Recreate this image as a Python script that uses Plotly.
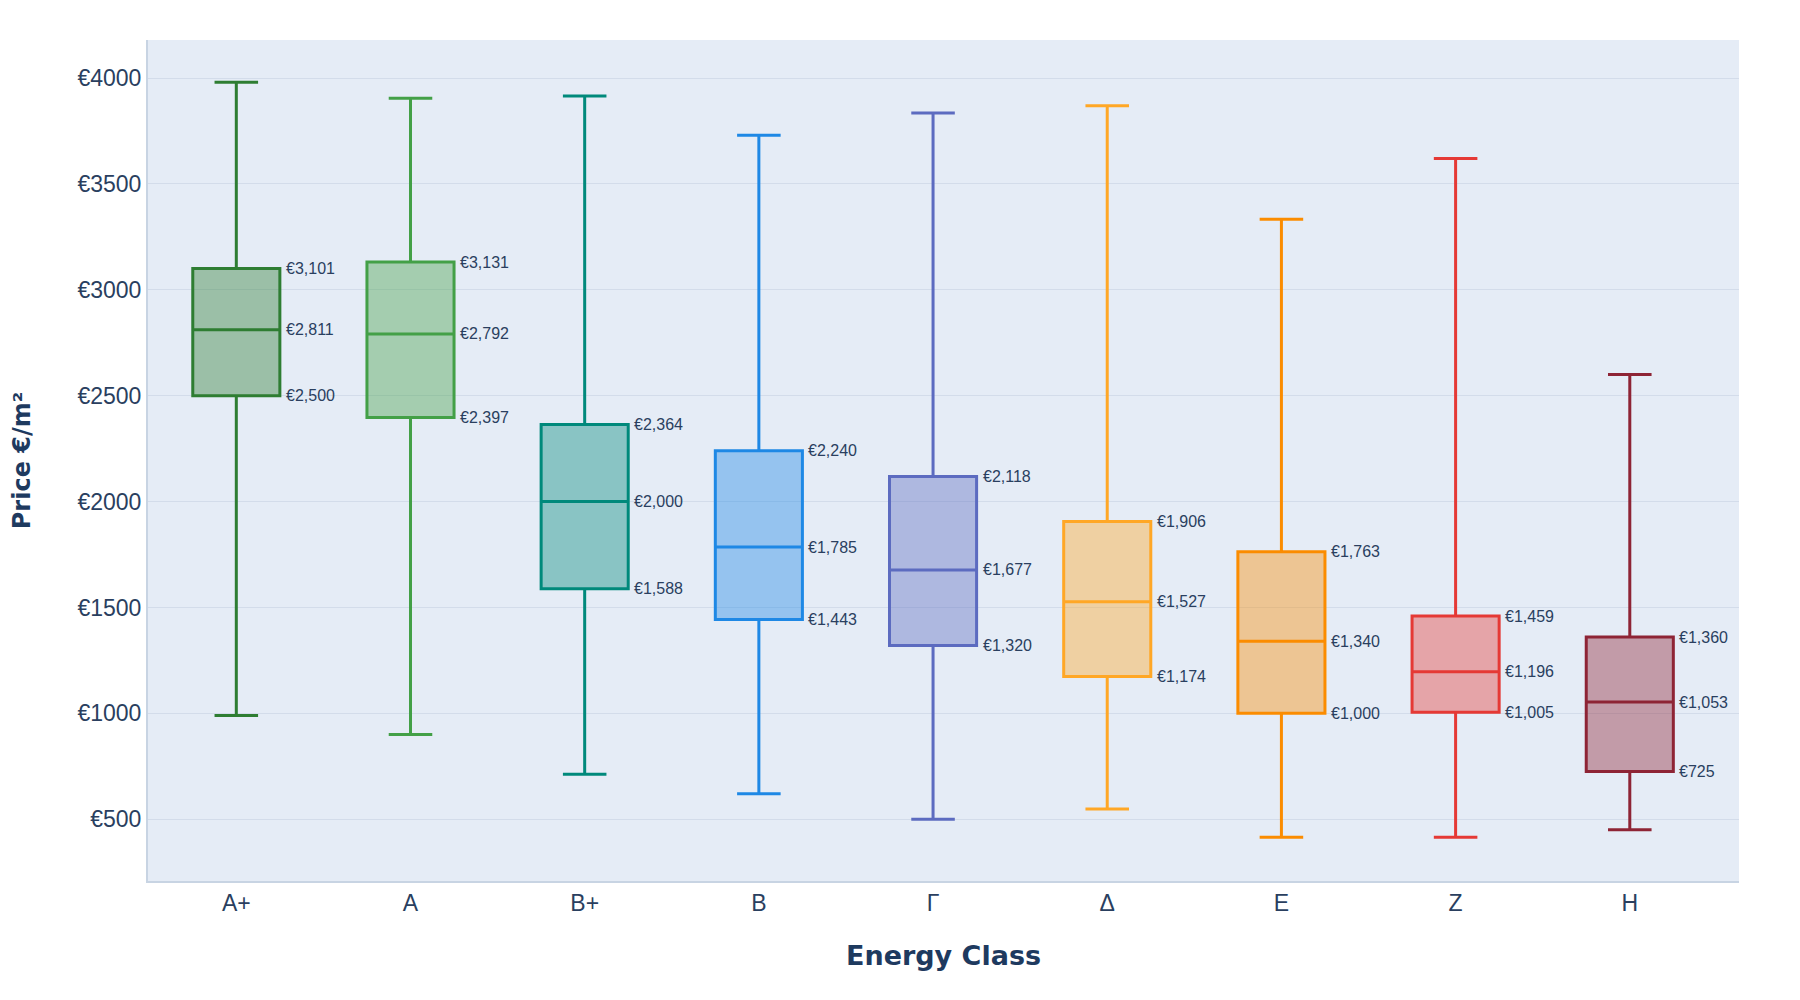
import plotly.graph_objects as go

classes = ["A+", "A", "B+", "B", "Γ", "Δ", "E", "Z", "H"]
lower_whisker = [990, 900, 712, 620, 500, 548, 415, 415, 450]
q1_values = [2500, 2397, 1588, 1443, 1320, 1174, 1000, 1005, 725]
median_values = [2811, 2792, 2000, 1785, 1677, 1527, 1340, 1196, 1053]
q3_values = [3101, 3131, 2364, 2240, 2118, 1906, 1763, 1459, 1360]
upper_whisker = [3980, 3905, 3915, 3730, 3835, 3870, 3333, 3620, 2600]
colors = ["#2e7d32", "#43a047", "#00897b", "#1e88e5", "#5c6bc0",
          "#ffa726", "#fb8c00", "#e53935", "#8e2435"]

def rgba(hex_color, a):
    h = hex_color.lstrip("#")
    r, g, b = int(h[0:2], 16), int(h[2:4], 16), int(h[4:6], 16)
    return f"rgba({r},{g},{b},{a})"

fig = go.Figure()
for i, c in enumerate(classes):
    fig.add_trace(go.Box(
        x=[c],
        q1=[q1_values[i]], median=[median_values[i]], q3=[q3_values[i]],
        lowerfence=[lower_whisker[i]], upperfence=[upper_whisker[i]],
        name=c,
        width=0.5,
        whiskerwidth=0.5,
        line=dict(color=colors[i], width=3),
        fillcolor=rgba(colors[i], 0.4),
        boxpoints=False,
        hoverinfo="skip",
        showlegend=False,
    ))

annotations = []
for i, c in enumerate(classes):
    for v in (q1_values[i], median_values[i], q3_values[i]):
        annotations.append(dict(
            x=i + 0.25, y=v, xref="x", yref="y",
            text=f"€{v:,}", showarrow=False,
            xanchor="left", yanchor="middle", xshift=4,
            font=dict(family="Liberation Sans, Arial", size=16, color="#2a3f5f"),
        ))

fig.update_layout(
    width=1800, height=1000,
    margin=dict(l=137, r=69, t=32, b=127),
    paper_bgcolor="white",
    plot_bgcolor="#e5ecf6",
    font=dict(family="Liberation Sans, Arial", color="#2a3f5f"),
    annotations=annotations,
    showlegend=False,
    xaxis=dict(
        type="category",
        categoryorder="array", categoryarray=classes,
        range=[-0.507, 8.627],
        showgrid=False,
        showline=True, linecolor="#c8d4e3", linewidth=2,
        tickfont=dict(family="Liberation Sans, Arial", size=23, color="#2a3f5f"),
        title=dict(text="Energy Class", standoff=32,
                   font=dict(family="DejaVu Sans", size=27, color="#1e3a5f", weight="bold")),
    ),
    yaxis=dict(
        range=[208, 4180],
        dtick=500, tick0=0,
        tickprefix="€",
        tickformat="d",
        showgrid=True, gridcolor="#d3dcea", gridwidth=1,
        zeroline=False,
        showline=True, linecolor="#c8d4e3", linewidth=2,
        tickfont=dict(family="Liberation Sans, Arial", size=23, color="#2a3f5f"),
        title=dict(text="Price €/m²", standoff=41,
                   font=dict(family="DejaVu Sans", size=24, color="#1e3a5f", weight="bold")),
    ),
)

fig.write_html("out.html")
